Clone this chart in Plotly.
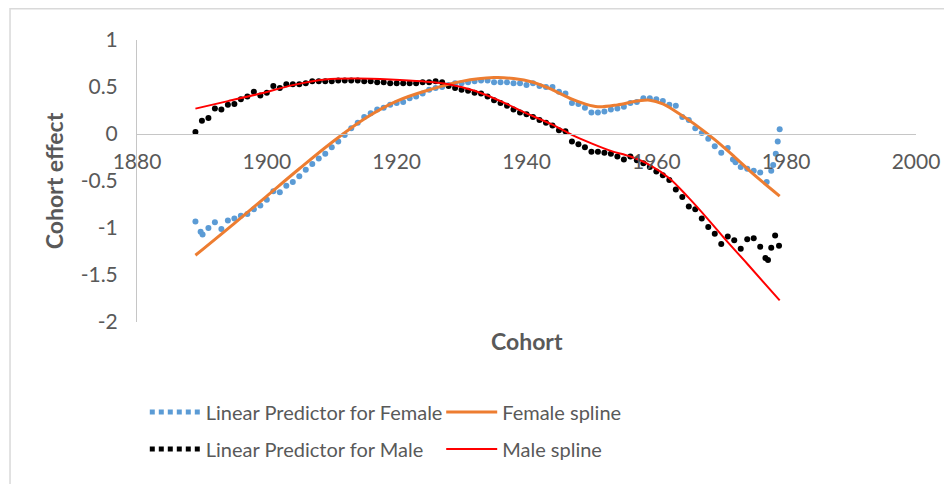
import plotly.graph_objects as go

# cohort years for the point series (the tail has a few extra, non-integer cohorts)
female_cohort = [1889, 1889.8, 1890.1] + list(range(1891, 1972)) + [
    1971.8, 1972.2, 1973, 1974, 1975, 1976, 1977, 1977.7, 1978, 1978.4, 1978.7, 1979]
female_lp = [
    -0.93, -1.04, -1.07, -1.00, -0.94, -1.01, -0.92, -0.90, -0.87, -0.85, -0.80, -0.76,
    -0.70, -0.61, -0.62, -0.55, -0.51, -0.45, -0.38, -0.32, -0.26, -0.21,
    -0.14, -0.08, -0.01, 0.06, 0.12, 0.18, 0.22, 0.26, 0.28, 0.31,
    0.33, 0.34, 0.38, 0.40, 0.43, 0.47, 0.49, 0.50, 0.52, 0.54,
    0.54, 0.55, 0.56, 0.57, 0.57, 0.55, 0.55, 0.55, 0.54, 0.54,
    0.52, 0.54, 0.51, 0.50, 0.50, 0.45, 0.43, 0.33, 0.32, 0.28,
    0.23, 0.23, 0.24, 0.26, 0.27, 0.29, 0.33, 0.34, 0.38, 0.38,
    0.37, 0.35, 0.31, 0.30, 0.18, 0.15, 0.06, 0.01, -0.05, -0.13,
    -0.20, -0.15,
    -0.27, -0.30, -0.35, -0.37, -0.39, -0.41, -0.51, -0.39, -0.33, -0.21, -0.08, 0.05,
]

male_cohort = list(range(1889, 1977)) + [1976.8, 1977.2, 1977.7, 1978.3, 1978.9]
male_lp = [
    0.02, 0.14, 0.17, 0.27, 0.26, 0.31, 0.32, 0.37, 0.40, 0.45, 0.41,
    0.44, 0.51, 0.49, 0.53, 0.53, 0.53, 0.54, 0.56, 0.56, 0.56,
    0.56, 0.57, 0.57, 0.57, 0.57, 0.56, 0.56, 0.55, 0.55, 0.54,
    0.54, 0.54, 0.54, 0.54, 0.55, 0.55, 0.56, 0.55, 0.51, 0.49,
    0.47, 0.46, 0.44, 0.43, 0.40, 0.36, 0.33, 0.30, 0.26, 0.23,
    0.21, 0.18, 0.15, 0.12, 0.09, 0.04, 0.03, -0.08, -0.11, -0.14,
    -0.19, -0.19, -0.20, -0.21, -0.24, -0.27, -0.24, -0.28, -0.31, -0.35,
    -0.40, -0.44, -0.49, -0.59, -0.67, -0.77, -0.80, -0.90, -0.99, -1.06,
    -1.17, -1.09, -1.13, -1.22, -1.12, -1.11, -1.20,
    -1.32, -1.34, -1.21, -1.08, -1.19,
]

female_spline_cohort = [1889, 1895, 1900, 1905, 1910, 1915, 1920, 1925, 1930, 1935, 1938,
                        1941, 1944, 1947, 1949, 1951, 1954, 1957, 1959, 1961, 1963,
                        1966, 1969, 1972, 1975, 1979]
female_spline = [-1.29, -0.95, -0.66, -0.37, -0.09, 0.16, 0.35, 0.47, 0.56, 0.60, 0.59,
                 0.55, 0.47, 0.37, 0.32, 0.29, 0.31, 0.35, 0.36, 0.32, 0.24,
                 0.10, -0.06, -0.24, -0.43, -0.66]

male_spline_cohort = [1889, 1894, 1899, 1904, 1909, 1914, 1919, 1924, 1928, 1932, 1936,
                      1940, 1944, 1947, 1950, 1953, 1956, 1959, 1962, 1965, 1968,
                      1971, 1974, 1979]
male_spline = [0.27, 0.35, 0.43, 0.52, 0.58, 0.59, 0.58, 0.56, 0.53, 0.46, 0.35,
               0.22, 0.10, -0.01, -0.10, -0.18, -0.24, -0.33, -0.47, -0.68, -0.91,
               -1.15, -1.38, -1.77]

x_ticks = [1880, 1900, 1920, 1940, 1960, 1980, 2000]
y_ticks = [-2, -1.5, -1, -0.5, 0, 0.5, 1]
y_tick_text = ["-2", "-1.5", "-1", "-0.5", "0", "0.5", "1"]

BLUE = "#5B9BD5"
ORANGE = "#ED7D31"
RED = "#FF0000"
GREY_TXT = "#595959"
AXIS = "#C6C6C6"
FONT = "Lato"

fig = go.Figure()

fig.add_trace(go.Scatter(x=female_cohort, y=female_lp, mode="markers",
                         marker=dict(color=BLUE, size=6), showlegend=False))
fig.add_trace(go.Scatter(x=male_cohort, y=male_lp, mode="markers",
                         marker=dict(color="#000000", size=6), showlegend=False))
fig.add_trace(go.Scatter(x=female_spline_cohort, y=female_spline, mode="lines",
                         line=dict(color=ORANGE, width=3, shape="spline", smoothing=1),
                         showlegend=False))
fig.add_trace(go.Scatter(x=male_spline_cohort, y=male_spline, mode="lines",
                         line=dict(color=RED, width=2, shape="spline", smoothing=1),
                         showlegend=False))

# legend entries (Excel-style: dotted swatch for the point series)
legend_items = [
    ("Linear Predictor for Female", dict(color=BLUE, width=5, dash="5px,4px"), "legend", "f"),
    ("Linear Predictor for Male", dict(color="#000000", width=5, dash="5px,4px"), "legend", "m"),
    ("Female spline", dict(color=ORANGE, width=3), "legend2", "fs"),
    ("Male spline", dict(color=RED, width=2), "legend2", "ms"),
]
for name, line, leg, grp in legend_items:
    fig.add_trace(go.Scatter(x=[None], y=[None], mode="lines", line=line, name=name,
                             legend=leg, legendgroup=grp, hoverinfo="skip"))

leg_common = dict(orientation="v", traceorder="grouped", tracegroupgap=8,
                  itemwidth=51, font=dict(family=FONT, size=20, color=GREY_TXT),
                  bgcolor="rgba(0,0,0,0)", yanchor="top", xanchor="left", y=-0.25)

# page body adds an 8px offset, so the figure is 944x476
fig.update_layout(
    width=944, height=476,
    margin=dict(l=129, r=29, t=32, b=162),
    paper_bgcolor="white", plot_bgcolor="white",
    font=dict(family=FONT, color=GREY_TXT),
    xaxis=dict(range=[1880, 2000], tickvals=x_ticks, showgrid=False, zeroline=False,
               showline=True, linecolor=AXIS, linewidth=1, ticks="",
               anchor="free", position=2 / 3, ticklabelstandoff=9,
               tickfont=dict(family=FONT, size=21, color=GREY_TXT)),
    yaxis=dict(range=[-2, 1], tickvals=y_ticks, ticktext=y_tick_text, showgrid=False,
               zeroline=False, showline=True, linecolor=AXIS, linewidth=1, ticks="",
               ticklabelstandoff=14,
               tickfont=dict(family=FONT, size=21, color=GREY_TXT),
               title=dict(text="<b>Cohort effect</b>", standoff=10,
                          font=dict(family=FONT, size=23, color=GREY_TXT))),
    legend=dict(x=0.010, **leg_common),
    legend2=dict(x=0.3905, **leg_common),
    annotations=[dict(text="<b>Cohort</b>", xref="paper", yref="paper", x=0.5, y=-0.067,
                      showarrow=False, xanchor="center", yanchor="middle",
                      font=dict(family=FONT, size=23, color=GREY_TXT))],
    shapes=[dict(type="rect", xref="paper", yref="paper", x0=-0.163, x1=1.2,
                 y0=-0.8, y1=1.111, line=dict(color="#D9D9D9", width=1.5),
                 fillcolor="rgba(0,0,0,0)", layer="below")],
)

fig.write_html("out.html")
